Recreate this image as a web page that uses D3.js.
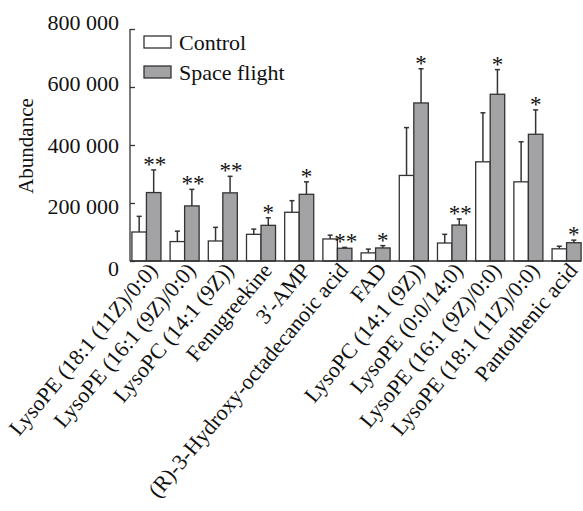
<!DOCTYPE html>
<html>
<head>
<meta charset="utf-8">
<script src="https://cdn.jsdelivr.net/npm/d3@7"></script>
<style>
  html, body { margin: 0; padding: 0; background: #fff; }
  svg text { font-family: "Liberation Serif", "Times New Roman", serif; fill: #111; }
</style>
</head>
<body>
<svg id="chart" width="583" height="511"></svg>
<script>
const categories = [
  "LysoPE (18:1 (11Z)/0:0)",
  "LysoPE (16:1 (9Z)/0:0)",
  "LysoPC (14:1 (9Z))",
  "Fenugreekine",
  "3′-AMP",
  "(R)-3-Hydroxy-octadecanoic acid",
  "FAD",
  "LysoPC (14:1 (9Z))",
  "LysoPE (0:0/14:0)",
  "LysoPE (16:1 (9Z)/0:0)",
  "LysoPE (18:1 (11Z)/0:0)",
  "Pantothenic acid"
];
const seriesNames = ["Control", "Space flight"];
const controlValues = [100000, 67000, 69000, 92000, 168000, 76000, 28000, 295000, 62000, 342000, 273000, 42000];
const controlErrors = [54000, 36000, 47000, 18000, 40000, 13000, 13000, 165000, 30000, 169000, 138000, 9000];
const flightValues  = [236000, 190000, 235000, 123000, 230000, 44000, 45000, 545000, 124000, 575000, 437000, 63000];
const flightErrors  = [78000, 57000, 57000, 26000, 43000, 3000, 8000, 118000, 21000, 85000, 84000, 9000];
const significance  = ["**", "**", "**", "*", "*", "**", "*", "*", "**", "*", "*", "*"];
const yTicks = [0, 200000, 400000, 600000, 800000];

const svg = d3.select("#chart");
const x0 = 130, x1 = 583, yBase = 261, yTop = 29;
const stroke = "#333";

const x = d3.scaleBand().domain(d3.range(categories.length)).range([x0, x1])
  .paddingInner(0.24).paddingOuter(0.05);
const xs = d3.scaleBand().domain([0, 1]).range([0, x.bandwidth()]);
const y = d3.scaleLinear().domain([0, 800000]).range([yBase, yTop]);
const fmt = v => d3.format(",")(v).replace(/,/g, " ");

// Y axis
const yAxis = svg.append("g").attr("transform", `translate(${x0},0)`)
  .call(d3.axisLeft(y).tickValues(yTicks).tickFormat(fmt).tickSize(-5).tickPadding(11));
yAxis.select(".domain").remove();
yAxis.selectAll(".tick line").attr("stroke", stroke).attr("stroke-width", 1.3);
yAxis.selectAll(".tick text")
  .style("font-size", "22px")
  .attr("fill", "#111")
  .attr("y", d => (d - 400000) / 800000 * -14)
  .attr("dy", "0.33em");
svg.append("line").attr("x1", x0).attr("x2", x0).attr("y1", y(800000)).attr("y2", yBase)
  .attr("stroke", stroke).attr("stroke-width", 1.3);

// Y title
svg.append("text")
  .attr("transform", `translate(33,${(yBase + yTop) / 2 + 1}) rotate(-90)`)
  .attr("text-anchor", "middle")
  .style("font-size", "21px")
  .text("Abundance");

const seriesData = [
  { vals: controlValues, errs: controlErrors, fill: "#ffffff" },
  { vals: flightValues, errs: flightErrors, fill: "#a3a3a6" }
];

seriesData.forEach((s, si) => {
  const g = svg.append("g");
  const cx = i => x(i) + xs(si) + xs.bandwidth() / 2;
  g.selectAll("line.err").data(s.vals).join("line")
    .attr("x1", (d, i) => cx(i)).attr("x2", (d, i) => cx(i))
    .attr("y1", d => y(d))
    .attr("y2", (d, i) => y(d + s.errs[i]))
    .attr("stroke", stroke).attr("stroke-width", 1.5);
  g.selectAll("line.cap").data(s.vals).join("line")
    .attr("x1", (d, i) => cx(i) - 2.5)
    .attr("x2", (d, i) => cx(i) + 2.5)
    .attr("y1", (d, i) => y(d + s.errs[i]))
    .attr("y2", (d, i) => y(d + s.errs[i]))
    .attr("stroke", stroke).attr("stroke-width", 1.5);
  g.selectAll("rect").data(s.vals).join("rect")
    .attr("x", (d, i) => x(i) + xs(si))
    .attr("y", d => y(d))
    .attr("width", xs.bandwidth())
    .attr("height", d => yBase - y(d))
    .attr("fill", s.fill)
    .attr("stroke", stroke).attr("stroke-width", 1.3);
});

// significance stars
svg.append("g").selectAll("text").data(significance).join("text")
  .attr("x", (d, i) => x(i) + xs(1) + xs.bandwidth() / 2 + (d.length > 1 ? 1 : 0))
  .attr("y", (d, i) => y(flightValues[i] + flightErrors[i]) + 2)
  .attr("text-anchor", "middle")
  .style("font-size", "23px")
  .text(d => d);

// baseline
svg.append("line").attr("x1", x0).attr("x2", 581).attr("y1", yBase).attr("y2", yBase)
  .attr("stroke", stroke).attr("stroke-width", 1.5);

// x labels
svg.append("g").selectAll("text").data(categories).join("text")
  .attr("transform", (d, i) => `translate(${x(i) + x.bandwidth() / 2 + 12},${yBase + 10}) rotate(-50)`)
  .attr("text-anchor", "end")
  .style("font-size", "22px")
  .text(d => d);

// legend
const legend = svg.append("g");
seriesNames.forEach((name, i) => {
  const ly = 36 + i * 30;
  legend.append("rect").attr("x", 144).attr("y", ly).attr("width", 27).attr("height", 12)
    .attr("fill", seriesData[i].fill).attr("stroke", stroke).attr("stroke-width", 1.3);
  legend.append("text").attr("x", 179).attr("y", ly + 14)
    .style("font-size", "22px").text(name);
});
</script>
</body>
</html>
